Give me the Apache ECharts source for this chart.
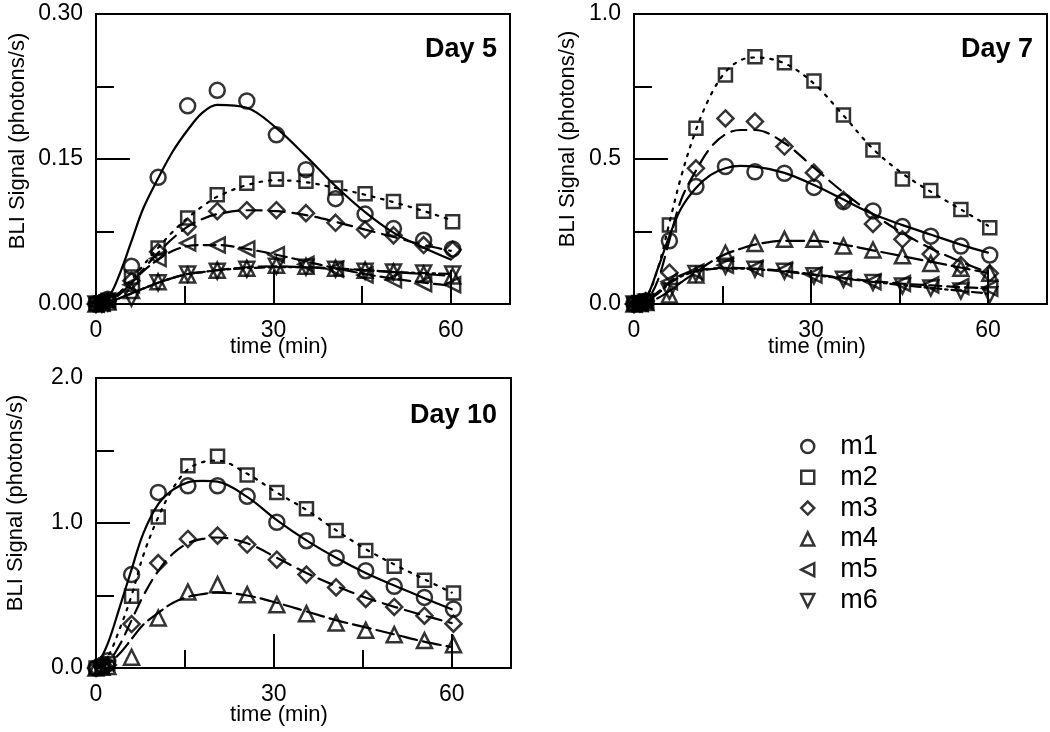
<!DOCTYPE html>
<html>
<head>
<meta charset="utf-8">
<script src="https://cdn.jsdelivr.net/npm/echarts@6/dist/echarts.min.js"></script>
<style>html,body{margin:0;padding:0;background:#fff}#c{width:1050px;height:732px}</style>
</head>
<body>
<div id="c"></div>
<script>
// ---- sample times (min) and fit-curve times ----
const sampleT = [0, 1, 2, 6, 10.5, 15.5, 20.5, 25.5, 30.5, 35.5, 40.5, 45.5, 50.3, 55.4, 60.3];
const fitT = [0, 2, 4, 6, 8, 10.5, 13, 15.5, 18, 20.5, 25.5, 30.5, 35.5, 40.5, 45.5, 50.5, 55.5, 60];

// ---- tick labels ----
const xTickLabels = [0, 30, 60];
const yTicksDay5 = ['0.00', '0.15', '0.30'];
const yTicksDay7 = ['0.0', '0.5', '1.0'];
const yTicksDay10 = ['0.0', '1.0', '2.0'];
const mice = ['m1', 'm2', 'm3', 'm4', 'm5', 'm6'];

// ---- Day 5 measured points ----
const d5_m1 = [0, 0.002, 0.005, 0.039, 0.131, 0.205, 0.221, 0.210, 0.175, 0.139, 0.109, 0.093, 0.078, 0.066, 0.057];
const d5_m2 = [0, 0.001, 0.004, 0.028, 0.058, 0.089, 0.113, 0.125, 0.129, 0.127, 0.120, 0.114, 0.106, 0.096, 0.085];
const d5_m3 = [0, 0.001, 0.003, 0.024, 0.054, 0.080, 0.096, 0.097, 0.097, 0.094, 0.084, 0.077, 0.071, 0.061, 0.056];
const d5_m4 = [0, 0.001, 0.002, 0.014, 0.023, 0.030, 0.035, 0.037, 0.040, 0.039, 0.037, 0.035, 0.033, 0.031, 0.029];
const d5_m5 = [0, 0.001, 0.003, 0.020, 0.047, 0.063, 0.061, 0.057, 0.051, 0.041, 0.036, 0.030, 0.025, 0.021, 0.020];
const d5_m6 = [0, 0.000, 0.001, 0.006, 0.022, 0.031, 0.034, 0.036, 0.039, 0.038, 0.036, 0.034, 0.033, 0.032, 0.031];
// ---- Day 5 fitted curves ----
const d5_m1_fit = [0, 0.006, 0.031, 0.065, 0.099, 0.130, 0.158, 0.180, 0.198, 0.206, 0.203, 0.182, 0.153, 0.122, 0.095, 0.073, 0.058, 0.046];
const d5_m2_fit = [0, 0.004, 0.012, 0.025, 0.040, 0.058, 0.075, 0.089, 0.101, 0.111, 0.123, 0.128, 0.126, 0.120, 0.113, 0.105, 0.096, 0.087];
const d5_m3_fit = [0, 0.003, 0.010, 0.022, 0.036, 0.053, 0.068, 0.080, 0.088, 0.093, 0.097, 0.096, 0.092, 0.085, 0.077, 0.069, 0.061, 0.055];
const d5_m4_fit = [0, 0.002, 0.006, 0.011, 0.016, 0.022, 0.027, 0.031, 0.033, 0.035, 0.038, 0.039, 0.038, 0.037, 0.035, 0.033, 0.031, 0.029];
const d5_m5_fit = [0, 0.004, 0.012, 0.022, 0.034, 0.046, 0.055, 0.060, 0.061, 0.061, 0.057, 0.051, 0.044, 0.037, 0.031, 0.026, 0.022, 0.019];
const d5_m6_fit = [0, 0.002, 0.006, 0.011, 0.016, 0.022, 0.027, 0.031, 0.033, 0.035, 0.037, 0.038, 0.038, 0.036, 0.035, 0.033, 0.032, 0.031];

// ---- Day 7 measured points ----
const d7_m1 = [0, 0.003, 0.010, 0.218, 0.405, 0.474, 0.456, 0.451, 0.402, 0.353, 0.321, 0.267, 0.234, 0.200, 0.169];
const d7_m2 = [0, 0.003, 0.010, 0.272, 0.606, 0.790, 0.853, 0.832, 0.769, 0.652, 0.531, 0.431, 0.391, 0.326, 0.263];
const d7_m3 = [0, 0.003, 0.010, 0.108, 0.468, 0.640, 0.629, 0.543, 0.453, 0.359, 0.276, 0.223, 0.172, 0.134, 0.106];
const d7_m4 = [0, 0.002, 0.005, 0.031, 0.100, 0.175, 0.209, 0.223, 0.223, 0.200, 0.186, 0.166, 0.140, 0.123, 0.106];
const d7_m5 = [0, 0.003, 0.008, 0.077, 0.110, 0.134, 0.123, 0.117, 0.100, 0.089, 0.077, 0.071, 0.066, 0.060, 0.054];
const d7_m6 = [0, 0.002, 0.006, 0.043, 0.105, 0.130, 0.120, 0.113, 0.097, 0.085, 0.074, 0.062, 0.055, 0.045, 0.032];
// ---- Day 7 fitted curves ----
const d7_m1_fit = [0, 0.02, 0.12, 0.235, 0.33, 0.40, 0.445, 0.468, 0.476, 0.474, 0.452, 0.41, 0.36, 0.31, 0.272, 0.238, 0.204, 0.177];
const d7_m2_fit = [0, 0.02, 0.12, 0.28, 0.44, 0.60, 0.72, 0.80, 0.84, 0.85, 0.83, 0.76, 0.65, 0.535, 0.45, 0.385, 0.325, 0.27];
const d7_m3_fit = [0, 0.01, 0.08, 0.22, 0.36, 0.46, 0.54, 0.585, 0.60, 0.60, 0.555, 0.47, 0.385, 0.31, 0.245, 0.19, 0.145, 0.108];
const d7_m4_fit = [0, 0.005, 0.02, 0.045, 0.075, 0.11, 0.145, 0.172, 0.19, 0.205, 0.218, 0.218, 0.205, 0.185, 0.165, 0.145, 0.125, 0.107];
const d7_m5_fit = [0, 0.01, 0.04, 0.075, 0.10, 0.115, 0.122, 0.125, 0.124, 0.122, 0.114, 0.102, 0.09, 0.079, 0.07, 0.064, 0.058, 0.054];
const d7_m6_fit = [0, 0.01, 0.035, 0.07, 0.095, 0.112, 0.12, 0.123, 0.122, 0.12, 0.112, 0.10, 0.088, 0.076, 0.065, 0.055, 0.045, 0.036];

// ---- Day 10 measured points ----
const d10_m1 = [0, 0.02, 0.05, 0.644, 1.211, 1.257, 1.257, 1.184, 1.005, 0.878, 0.759, 0.671, 0.563, 0.487, 0.407];
const d10_m2 = [0, 0.01, 0.03, 0.494, 1.041, 1.395, 1.460, 1.331, 1.211, 1.099, 0.949, 0.811, 0.701, 0.605, 0.517];
const d10_m3 = [0, 0.01, 0.02, 0.303, 0.724, 0.890, 0.913, 0.851, 0.747, 0.644, 0.556, 0.476, 0.421, 0.361, 0.306];
const d10_m4 = [0, 0.005, 0.01, 0.074, 0.345, 0.524, 0.575, 0.506, 0.437, 0.375, 0.310, 0.260, 0.230, 0.189, 0.161];
// ---- Day 10 fitted curves ----
const d10_m1_fit = [0, 0.17, 0.42, 0.68, 0.93, 1.13, 1.23, 1.28, 1.29, 1.285, 1.18, 1.02, 0.88, 0.76, 0.655, 0.565, 0.48, 0.405];
const d10_m2_fit = [0, 0.08, 0.27, 0.50, 0.78, 1.04, 1.24, 1.37, 1.42, 1.43, 1.34, 1.21, 1.09, 0.95, 0.82, 0.71, 0.61, 0.52];
const d10_m3_fit = [0, 0.04, 0.16, 0.33, 0.50, 0.67, 0.79, 0.86, 0.89, 0.90, 0.86, 0.76, 0.655, 0.565, 0.485, 0.42, 0.36, 0.31];
const d10_m4_fit = [0, 0.03, 0.10, 0.20, 0.30, 0.38, 0.45, 0.49, 0.51, 0.52, 0.50, 0.45, 0.39, 0.33, 0.28, 0.23, 0.18, 0.145];

const FONT = 'Liberation Sans, Arial, Helvetica, sans-serif';

const panels = [
  { title: 'Day 5', yMax: 0.30, yMajor: 0.15, yTicks: yTicksDay5, grid: {left: 96, top: 14, width: 414, height: 290},
    pts: {m1: d5_m1, m2: d5_m2, m3: d5_m3, m4: d5_m4, m5: d5_m5, m6: d5_m6},
    fit: {m1: d5_m1_fit, m2: d5_m2_fit, m3: d5_m3_fit, m4: d5_m4_fit, m5: d5_m5_fit, m6: d5_m6_fit} },
  { title: 'Day 7', yMax: 1.0, yMajor: 0.5, yTicks: yTicksDay7, grid: {left: 634, top: 14, width: 414, height: 290},
    pts: {m1: d7_m1, m2: d7_m2, m3: d7_m3, m4: d7_m4, m5: d7_m5, m6: d7_m6},
    fit: {m1: d7_m1_fit, m2: d7_m2_fit, m3: d7_m3_fit, m4: d7_m4_fit, m5: d7_m5_fit, m6: d7_m6_fit} },
  { title: 'Day 10', yMax: 2.0, yMajor: 1.0, yTicks: yTicksDay10, grid: {left: 96, top: 378, width: 415, height: 290},
    pts: {m1: d10_m1, m2: d10_m2, m3: d10_m3, m4: d10_m4},
    fit: {m1: d10_m1_fit, m2: d10_m2_fit, m3: d10_m3_fit, m4: d10_m4_fit} }
];

const symbolOf = {
  m1: {symbol: 'circle', size: 15, rotate: 0},
  m2: {symbol: 'rect', size: 13, rotate: 0},
  m3: {symbol: 'diamond', size: 16, rotate: 0},
  m4: {symbol: 'triangle', size: 15, rotate: 0},
  m5: {symbol: 'triangle', size: 15, rotate: 90},
  m6: {symbol: 'triangle', size: 15, rotate: 180}
};
const dashOf = {
  m1: 'solid',
  m2: [2.5, 7],
  m3: [15, 8],
  m4: [18, 6],
  m5: [12, 6],
  m6: [10, 4, 2.5, 4]
};

const AX_PER_GRID = 5;
const grids = [], xAxes = [], yAxes = [], series = [];
const tickLine = {color: '#000', width: 2};
// tick-only axes are shifted into the plot by their tick length so the ticks sit inside the frame
function tickAxis(base, pos, interval, len) {
  return Object.assign({}, base, {position: pos, interval: interval, offset: -len,
    axisTick: {show: true, inside: true, length: len, lineStyle: tickLine},
    axisLabel: {show: false}});
}
panels.forEach((p, g) => {
  grids.push(Object.assign({show: true, borderColor: '#000', borderWidth: 2, backgroundColor: 'transparent'}, p.grid));
  const xBase = {gridIndex: g, type: 'value', min: 0, max: 70, axisLine: {show: false}, splitLine: {show: false}};
  xAxes.push(Object.assign({}, xBase, {position: 'bottom', interval: 30, axisTick: {show: false},
    axisLabel: {margin: 15, fontSize: 23, color: '#000', fontFamily: FONT,
      formatter: v => xTickLabels.indexOf(v) >= 0 ? String(v) : ''}}));
  xAxes.push(tickAxis(xBase, 'bottom', 30, 17));
  xAxes.push(tickAxis(xBase, 'bottom', 15, 9));
  xAxes.push(tickAxis(xBase, 'top', 30, 17));
  xAxes.push(tickAxis(xBase, 'top', 15, 9));
  const yBase = {gridIndex: g, type: 'value', min: 0, max: p.yMax, axisLine: {show: false}, splitLine: {show: false}};
  yAxes.push(Object.assign({}, yBase, {position: 'left', interval: p.yMajor, axisTick: {show: false},
    axisLabel: {margin: 13, fontSize: 23, color: '#000', fontFamily: FONT,
      formatter: v => { const i = Math.round(v / p.yMajor); return p.yTicks[i] || ''; }}}));
  yAxes.push(tickAxis(yBase, 'left', p.yMajor, 17));
  yAxes.push(tickAxis(yBase, 'left', p.yMajor / 2, 9));
  yAxes.push(tickAxis(yBase, 'right', p.yMajor, 17));
  yAxes.push(tickAxis(yBase, 'right', p.yMajor / 2, 9));

  Object.keys(p.pts).forEach(m => {
    series.push({
      name: m + ' fit', type: 'line', xAxisIndex: AX_PER_GRID * g, yAxisIndex: AX_PER_GRID * g,
      data: fitT.map((t, i) => [t, p.fit[m][i]]),
      smooth: 0.35, showSymbol: false, symbol: 'none', silent: true, clip: true,
      lineStyle: {color: '#000', width: 2.2, type: dashOf[m], cap: 'round'}, z: 2
    });
    series.push({
      name: m, type: 'scatter', xAxisIndex: AX_PER_GRID * g, yAxisIndex: AX_PER_GRID * g,
      data: sampleT.map((t, i) => [t, p.pts[m][i]]),
      symbol: symbolOf[m].symbol, symbolSize: symbolOf[m].size, symbolRotate: symbolOf[m].rotate,
      itemStyle: {color: 'rgba(255,255,255,0)', borderColor: '#000', borderWidth: 2.5}, z: 3, clip: false
    });
  });
});

const labelStyle = {fontSize: 22, fontFamily: FONT, fill: '#000', align: 'center', verticalAlign: 'middle'};
const titleStyle = {fontSize: 27, fontWeight: 'bold', fontFamily: FONT, fill: '#000', align: 'right', verticalAlign: 'middle'};
const graphic = [
  {type: 'text', x: 18, y: 141, rotation: Math.PI / 2, style: Object.assign({text: 'BLI Signal (photons/s)'}, labelStyle)},
  {type: 'text', x: 568, y: 139, rotation: Math.PI / 2, style: Object.assign({text: 'BLI Signal (photons/s)'}, labelStyle)},
  {type: 'text', x: 16, y: 503, rotation: Math.PI / 2, style: Object.assign({text: 'BLI Signal (photons/s)'}, labelStyle)},
  {type: 'text', x: 279, y: 347, style: Object.assign({text: 'time (min)'}, labelStyle)},
  {type: 'text', x: 817, y: 347, style: Object.assign({text: 'time (min)'}, labelStyle)},
  {type: 'text', x: 279, y: 715, style: Object.assign({text: 'time (min)'}, labelStyle)},
  {type: 'text', x: 497, y: 50, style: Object.assign({text: panels[0].title}, titleStyle)},
  {type: 'text', x: 1033, y: 50, style: Object.assign({text: panels[1].title}, titleStyle)},
  {type: 'text', x: 497, y: 416, style: Object.assign({text: panels[2].title}, titleStyle)}
];

const legendIcons = {
  m1: 'circle', m2: 'rect', m3: 'diamond', m4: 'triangle',
  m5: 'path://M0,5 L10,0 L10,10 Z', m6: 'path://M0,0 L10,0 L5,10 Z'
};

const chart = echarts.init(document.getElementById('c'), null, {renderer: 'canvas'});
chart.setOption({
  animation: false,
  backgroundColor: '#fff',
  grid: grids, xAxis: xAxes, yAxis: yAxes, series: series, graphic: graphic,
  legend: {
    orient: 'vertical', left: 795, top: 428, padding: 5, itemWidth: 13, itemHeight: 13, itemGap: 3.8,
    selectedMode: false,
    itemStyle: {color: 'rgba(255,255,255,0)', borderColor: '#000', borderWidth: 2.5},
    textStyle: {fontSize: 27, color: '#000', fontFamily: FONT, lineHeight: 25, padding: [0, 0, 0, 21]},
    data: mice.map(m => ({name: m, icon: legendIcons[m]}))
  }
});
</script>
</body>
</html>
